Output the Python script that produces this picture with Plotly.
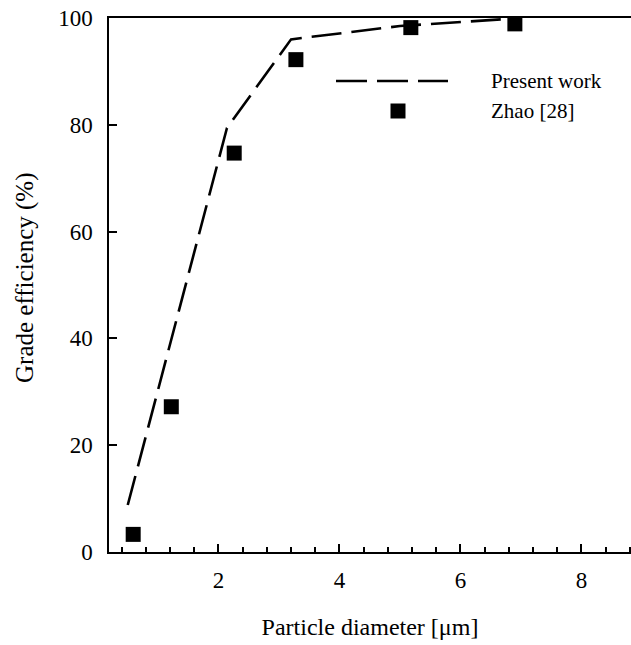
import plotly.graph_objects as go

# Data
present_x = [0.50, 2.14, 3.20, 5.0, 6.89]
present_y = [8.8, 79.4, 96.0, 98.5, 99.9]
zhao_x = [0.59, 1.22, 2.26, 3.28, 5.18, 6.90]
zhao_y = [3.3, 27.2, 74.7, 92.2, 98.2, 98.9]
x_ticks = [2, 4, 6, 8]
y_ticks = [0, 20, 40, 60, 80, 100]
legend_labels = ["Present work", "Zhao [28]"]
x_title = "Particle diameter [μm]"
y_title = "Grade efficiency (%)"

FONT = "Liberation Serif"

fig = go.Figure()
fig.add_trace(go.Scatter(x=present_x, y=present_y, mode="lines",
                         line=dict(color="black", width=2.6, dash="30px,10px"),
                         name=legend_labels[0], showlegend=False))
fig.add_trace(go.Scatter(x=zhao_x, y=zhao_y, mode="markers",
                         marker=dict(symbol="square", size=15, color="black"),
                         name=legend_labels[1], showlegend=False))

W, H = 631, 645
L, R, T, B = 109, 0, 18, 93
pw, ph = W - L - R, H - T - B

def px(x):
    return (x - L) / pw

def py(y):
    return (H - B - y) / ph

# manual legend
fig.add_shape(type="line", xref="paper", yref="paper",
              x0=px(336), x1=px(448), y0=py(81), y1=py(81),
              line=dict(color="black", width=2.6, dash="31px,10px"))
fig.add_shape(type="rect", xref="paper", yref="paper",
              x0=px(398 - 7.5), x1=px(398 + 7.5), y0=py(111 + 7.5), y1=py(111 - 7.5),
              fillcolor="black", line=dict(width=0))
fig.add_annotation(xref="paper", yref="paper", x=px(489), y=py(81),
                   text=legend_labels[0], showarrow=False, xanchor="left", yanchor="middle",
                   font=dict(family=FONT, size=21, color="black"))
fig.add_annotation(xref="paper", yref="paper", x=px(489), y=py(111),
                   text=legend_labels[1], showarrow=False, xanchor="left", yanchor="middle",
                   font=dict(family=FONT, size=21, color="black"))
# y-axis title
fig.add_annotation(xref="paper", yref="paper", x=px(25), y=py(278),
                   text=y_title, showarrow=False, xanchor="center", yanchor="middle",
                   textangle=-90, font=dict(family=FONT, size=25, color="black"))

fig.update_layout(
    width=W, height=H,
    margin=dict(l=L, r=R, t=T, b=B),
    paper_bgcolor="white", plot_bgcolor="white",
    font=dict(family=FONT, size=23, color="black"),
    showlegend=False,
    xaxis=dict(range=[0.19, 8.82], tickvals=x_ticks, ticks="inside", ticklen=8, tickwidth=1.5,
               tickcolor="black", showline=True, linecolor="black", linewidth=1.5, mirror=True,
               showgrid=False, zeroline=False, ticklabelstandoff=7,
               minor=dict(dtick=0.4, tick0=0, ticks="inside", ticklen=5, tickwidth=1.5,
                          tickcolor="black", showgrid=False),
               tickfont=dict(family=FONT, size=23),
               title=dict(text=x_title, font=dict(family=FONT, size=24), standoff=26)),
    yaxis=dict(range=[0, 100], tickvals=y_ticks, ticks="inside", ticklen=8, tickwidth=1.5,
               tickcolor="black", showline=True, linecolor="black", linewidth=1.5,
               showgrid=False, zeroline=False, ticklabelstandoff=10,
               tickfont=dict(family=FONT, size=23)),
)

fig.write_html("out.html", config={"displayModeBar": False},
               post_script="document.body.style.margin='0';document.body.style.overflow='hidden';")
